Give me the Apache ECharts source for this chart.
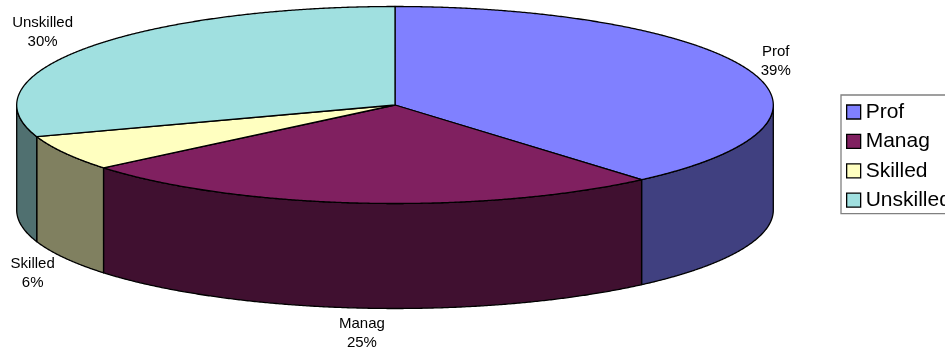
<!DOCTYPE html>
<html>
<head>
<meta charset="utf-8">
<style>html,body{margin:0;padding:0;background:#fff;overflow:hidden}#chart{width:945px;height:347px}</style>
<script src="https://cdn.jsdelivr.net/npm/echarts@6/dist/echarts.min.js"></script>
</head>
<body>
<div id="chart"></div>
<script>
// Occupation shares, in percent
const categories = ['Prof', 'Manag', 'Skilled', 'Unskilled'];
const shares = [38.7, 25.3, 5.8, 30.2];
const topColors = ['#8080FF', '#802060', '#FFFFC0', '#A0E0E0'];
const sideColors = ['#404080', '#401030', '#808060', '#507070'];

// Tilted disc geometry and label shifts away from each slice's rim
const disc = { cx: 395, cy: 105, rx: 378.3, ry: 98.5, depth: 105 };
const labelShift = { Prof: [26, -9], Manag: [-1, 25], Skilled: [-32, 15], Unskilled: [-45, -15] };

const total = shares.reduce((a, b) => a + b, 0);
const toAngle = s => (s / total) * Math.PI * 2;

function rimPoint(theta, drop) {
  return [
    disc.cx + disc.rx * Math.sin(theta),
    disc.cy - disc.ry * Math.cos(theta) + drop
  ];
}

function arc(from, to, drop) {
  const steps = Math.max(2, Math.ceil(Math.abs(to - from) / 0.005));
  const pts = [];
  for (let i = 0; i <= steps; i++) pts.push(rimPoint(from + (to - from) * i / steps, drop));
  return pts;
}

function renderSlice(index) {
  return function () {
    const before = shares.slice(0, index).reduce((a, b) => a + b, 0);
    const start = toAngle(before);
    const end = toAngle(before + shares[index]);
    const mid = (start + end) / 2;
    const children = [];

    // The wall is only visible on the near half of the disc
    const wallFrom = Math.max(start, Math.PI / 2);
    const wallTo = Math.min(end, Math.PI * 1.5);
    if (wallTo > wallFrom) {
      children.push({
        type: 'polygon',
        z2: 1,
        shape: { points: arc(wallFrom, wallTo, 0).concat(arc(wallTo, wallFrom, disc.depth)) },
        style: { fill: sideColors[index], stroke: '#000', lineWidth: 1.3, lineJoin: 'round' }
      });
    }

    children.push({
      type: 'polygon',
      z2: 2,
      shape: { points: [[disc.cx, disc.cy]].concat(arc(start, end, 0)) },
      style: { fill: topColors[index], stroke: '#000', lineWidth: 1.3, lineJoin: 'round' }
    });

    const name = categories[index];
    const near = Math.cos(mid) < 0;
    const anchor = rimPoint(mid, near ? disc.depth : 0);
    children.push({
      type: 'text',
      z2: 3,
      style: {
        text: name + '\n' + Math.round(shares[index] / total * 100) + '%',
        x: anchor[0] + labelShift[name][0],
        y: anchor[1] + labelShift[name][1],
        align: 'center',
        verticalAlign: 'middle',
        fontFamily: '"Liberation Sans", Arial, sans-serif',
        fontSize: 15,
        lineHeight: 19,
        fill: '#000'
      }
    });

    return { type: 'group', children };
  };
}

const chart = echarts.init(document.getElementById('chart'));
chart.setOption({
  animation: false,
  backgroundColor: '#fff',
  legend: {
    orient: 'vertical',
    left: 841,
    top: 95,
    data: categories,
    icon: 'rect',
    itemWidth: 14,
    itemHeight: 14,
    itemGap: 8.4,
    padding: [6.5, 110, 3, 5],
    borderColor: '#808080',
    borderWidth: 1.3,
    selectedMode: false,
    itemStyle: { borderColor: '#000', borderWidth: 1.3 },
    textStyle: {
      fontFamily: '"Liberation Sans", Arial, sans-serif',
      fontSize: 21,
      lineHeight: 16,
      color: '#000'
    }
  },
  series: categories.map((name, i) => ({
    type: 'custom',
    name,
    coordinateSystem: 'none',
    silent: true,
    itemStyle: { color: topColors[i] },
    data: [shares[i]],
    renderItem: renderSlice(i)
  }))
});
</script>
</body>
</html>
